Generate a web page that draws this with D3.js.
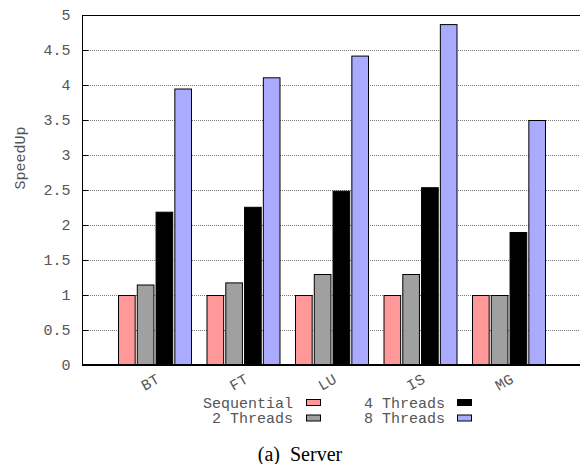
<!DOCTYPE html>
<html>
<head>
<meta charset="utf-8">
<script src="https://cdn.jsdelivr.net/npm/d3@7"></script>
<style>
body { margin: 0; background: #fff; }
text { font-family: "Liberation Mono", "DejaVu Sans Mono", monospace; }
</style>
</head>
<body>
<svg id="chart" width="580" height="464"></svg>
<script>
// data
var benchmarks = ["BT", "FT", "LU", "IS", "MG"];
var series = ["Sequential", "2 Threads", "4 Threads", "8 Threads"];
var sequential = [1, 1, 1, 1, 1];
var threads2 = [1.15, 1.18, 1.30, 1.30, 1.00];
var threads4 = [2.19, 2.26, 2.49, 2.54, 1.90];
var threads8 = [3.95, 4.11, 4.42, 4.87, 3.50];
var yTicks = [0, 0.5, 1, 1.5, 2, 2.5, 3, 3.5, 4, 4.5, 5];
var colors = ["#ff9999", "#a0a0a0", "#000000", "#aaaaff"];

var values = [sequential, threads2, threads4, threads8];
var data = [];
benchmarks.forEach(function(b, i) {
    series.forEach(function(s, j) {
        data.push({bench: b, key: s, value: values[j][i]});
    });
});

var svg = d3.select("#chart"),
    margin = {top: 15, left: 82, bottom: 99, right: 0},
    width = 580,
    height = 464;

var y = d3.scaleLinear()
    .domain([0, 5])
    .range([height - margin.bottom, margin.top]);

var x0 = d3.scaleBand()
    .domain(benchmarks)
    .range([110.75, 553.25])
    .paddingInner(0.164)
    .paddingOuter(0.082);

var x1 = d3.scaleBand()
    .domain(series)
    .range([0, x0.bandwidth()])
    .paddingInner(0.06);

var z = d3.scaleOrdinal().domain(series).range(colors);

// grid
svg.append("g")
    .selectAll("line")
    .data(yTicks.filter(d => d > 0 && d < 5))
    .enter().append("line")
    .attr("x1", margin.left + 6)
    .attr("x2", width)
    .attr("y1", d => y(d) + 0.5)
    .attr("y2", d => y(d) + 0.5)
    .attr("stroke", "#777")
    .attr("stroke-dasharray", "1,1");

// bars
svg.append("g")
    .selectAll("rect")
    .data(data)
    .enter().append("rect")
    .attr("x", d => x0(d.bench) + x1(d.key) + 0.5)
    .attr("y", d => y(d.value) + 0.5)
    .attr("width", x1.bandwidth() - 1)
    .attr("height", d => y(0) - y(d.value) - 1)
    .attr("fill", d => z(d.key))
    .attr("stroke", "#000")
    .attr("stroke-width", 1);

// y axis
var yAxis = svg.append("g")
    .attr("transform", `translate(${margin.left + 0.5},0)`)
    .call(d3.axisLeft(y).tickValues(yTicks).tickFormat(d3.format("")).tickSizeInner(-6).tickSizeOuter(0).tickPadding(12));
yAxis.select(".domain").remove();
yAxis.selectAll("line").attr("stroke", "#000");
yAxis.selectAll("text")
    .attr("font-size", "15px")
    .attr("font-family", "Liberation Mono, monospace")
    .attr("fill", "#555");

// frame
svg.append("line")
    .attr("x1", margin.left + 0.5).attr("x2", margin.left + 0.5)
    .attr("y1", margin.top).attr("y2", y(0))
    .attr("stroke", "#000");
svg.append("line")
    .attr("x1", margin.left).attr("x2", width)
    .attr("y1", margin.top + 0.5).attr("y2", margin.top + 0.5)
    .attr("stroke", "#000");
svg.append("line")
    .attr("x1", margin.left).attr("x2", width)
    .attr("y1", y(0)).attr("y2", y(0))
    .attr("stroke", "#000")
    .attr("stroke-width", 2);

// x labels
svg.append("g")
    .selectAll("text")
    .data(benchmarks)
    .enter().append("text")
    .attr("transform", d => `translate(${x0(d) + x0.bandwidth() / 2 - 5},${y(0) + 17}) rotate(-30)`)
    .attr("text-anchor", "middle")
    .attr("dy", "0.35em")
    .attr("font-size", "15px")
    .attr("fill", "#555")
    .text(d => d);

// y title
svg.append("text")
    .attr("transform", "translate(20,158) rotate(-90)")
    .attr("text-anchor", "middle")
    .attr("dy", "0.35em")
    .attr("font-size", "15px")
    .attr("fill", "#555")
    .text("SpeedUp");

// legend
var legendPos = [
    {tx: 293, bx: 306, cy: 402.5},
    {tx: 293, bx: 306, cy: 418},
    {tx: 445, bx: 457, cy: 402.5},
    {tx: 445, bx: 457, cy: 418}
];
var legend = svg.append("g")
    .selectAll("g")
    .data(series)
    .enter().append("g");
legend.append("text")
    .attr("x", (d, i) => legendPos[i].tx)
    .attr("y", (d, i) => legendPos[i].cy)
    .attr("dy", "0.35em")
    .attr("text-anchor", "end")
    .attr("font-size", "15px")
    .attr("fill", "#555")
    .text(d => d);
legend.append("rect")
    .attr("x", (d, i) => legendPos[i].bx + 0.5)
    .attr("y", (d, i) => legendPos[i].cy - 3)
    .attr("width", 14)
    .attr("height", 6)
    .attr("fill", d => z(d))
    .attr("stroke", "#000");

// caption
svg.append("text")
    .attr("x", 300)
    .attr("y", 461)
    .attr("text-anchor", "middle")
    .attr("font-size", "20px")
    .attr("fill", "#000")
    .attr("xml:space", "preserve")
    .style("font-family", "'Liberation Serif', serif")
    .text("(a)  Server");
</script>
</body>
</html>
